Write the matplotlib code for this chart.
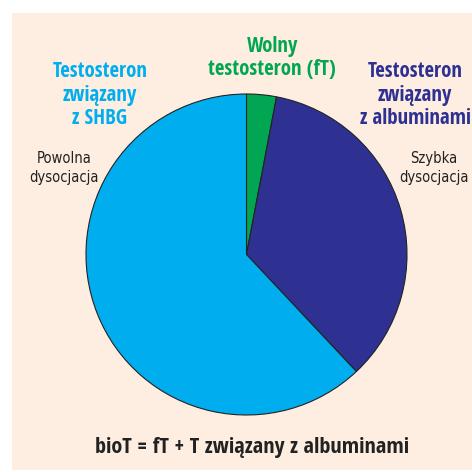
import matplotlib.pyplot as plt
from matplotlib.patches import Rectangle

# --- data ---
fractions = ["Wolny testosteron (fT)", "Testosteron związany z albuminami", "Testosteron związany z SHBG"]
shares = [3, 35, 62]
colors = ["#00a651", "#2e3192", "#00aeef"]

W = 472
fig = plt.figure(figsize=(4.72, 4.72), dpi=100, facecolor="white")
ax = fig.add_axes([0, 0, 1, 1])

# cream panel
ax.add_patch(Rectangle((12, 2), 470, 457, facecolor="#fdeee1", edgecolor="none", zorder=0))

ax.pie(shares, colors=colors, startangle=90, counterclock=False,
       center=(246.5, W - 254.5), radius=160.5,
       wedgeprops=dict(edgecolor="#222222", linewidth=0.8), frame=True)
ax.set_xlim(0, W)
ax.set_ylim(0, W)
ax.set_aspect("equal")
ax.axis("off")

head = dict(family="Open Sans Condensed", fontweight="bold",
            fontsize=15, ha="center", va="center", linespacing=1.15)
ax.text(100, W - 95, "Testosteron\nzwiązany\nz SHBG", color="#00aeef", **head)
ax.text(272, W - 58, "Wolny\ntestosteron (fT)", color="#00a651", **head)
ax.text(415, W - 95, "Testosteron\nzwiązany\nz albuminami", color="#2e3192", **head)

small = dict(family="DejaVu Sans", fontstretch="condensed", fontsize=10.5,
             ha="center", va="center", color="#222222", linespacing=1.3)
ax.text(64, W - 168, "Powolna\ndysocjacja", **small)
ax.text(434, W - 168, "Szybka\ndysocjacja", **small)

ax.text(252, W - 447, "bioT = fT + T związany z albuminami", color="#222222",
        family="Open Sans Condensed", fontweight="bold",
        fontsize=16, ha="center", va="center")

fig.savefig("out.png", dpi=100, facecolor="white")
